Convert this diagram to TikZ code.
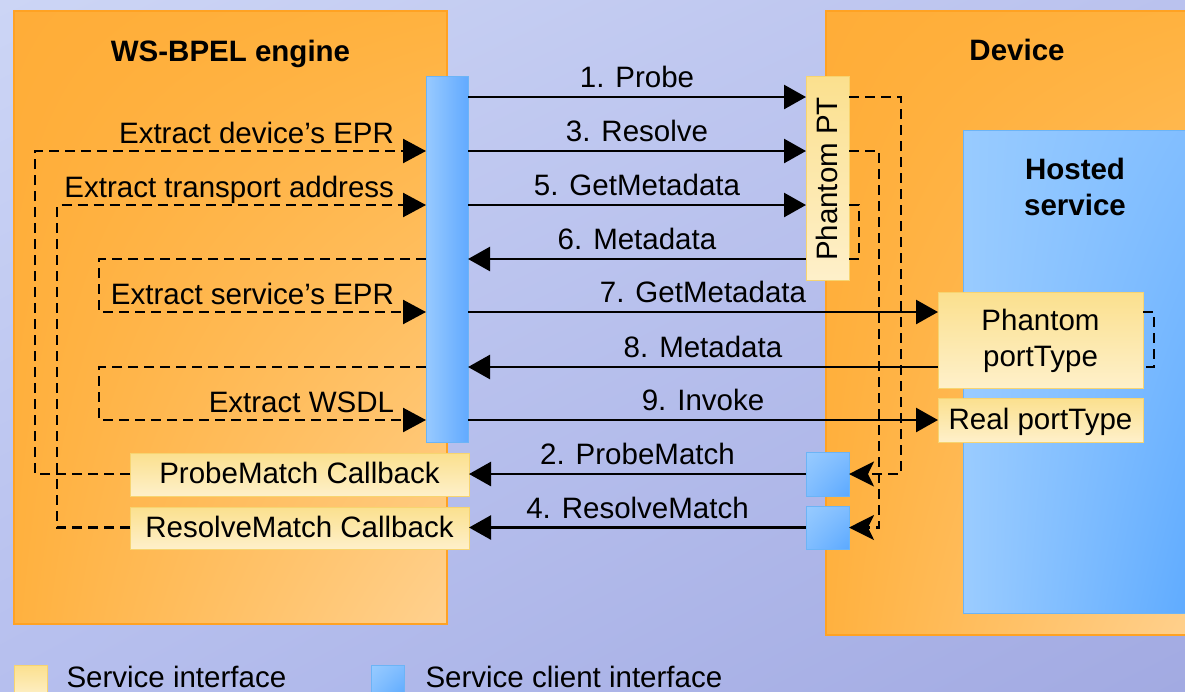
\documentclass[tikz,border=0pt]{standalone}
\usepackage{fontspec}
\setmainfont{Liberation Sans}
\usetikzlibrary{arrows.meta,shadings}

\definecolor{bgUL}{HTML}{CCD5F5}
\definecolor{bgUR}{HTML}{BAC2EE}
\definecolor{bgLL}{HTML}{B6BFEE}
\definecolor{bgLR}{HTML}{A2AAE2}
\definecolor{orUL}{HTML}{FFAD38}
\definecolor{orUR}{HTML}{FFB23F}
\definecolor{orLL}{HTML}{FFB13F}
\definecolor{orLR}{HTML}{FFD18F}
\definecolor{orLine}{HTML}{FFA223}
\definecolor{hsUL}{HTML}{98CBFF}
\definecolor{hsUR}{HTML}{80BDFF}
\definecolor{hsLL}{HTML}{9BCCFF}
\definecolor{hsLR}{HTML}{5BA9FF}
\definecolor{blLine}{HTML}{6CB4F6}
\definecolor{barL}{HTML}{98CAFF}
\definecolor{barR}{HTML}{62AAFF}
\definecolor{ylTop}{HTML}{FBE08E}
\definecolor{ylBot}{HTML}{FEF0CA}
\definecolor{ylLine}{HTML}{F7D470}

\begin{document}
\begin{tikzpicture}[x=1pt,y=-1pt,
  every node/.style={inner sep=0pt, outer sep=0pt},
  txt/.style={font=\fontsize{29.5}{33}\selectfont, text=black},
  ttl/.style={font=\bfseries\fontsize{29.5}{36}\selectfont, text=black},
  panel/.style={draw=orLine, line width=1.2pt, anchor=north west,
    upper left=orUL, upper right=orUR, lower left=orLL, lower right=orLR},
  hostbox/.style={draw=blLine, line width=1pt, anchor=north west,
    upper left=hsUL, upper right=hsUR, lower left=hsLL, lower right=hsLR},
  ifbox/.style={draw=ylLine, line width=1pt, anchor=north west,
    top color=ylTop, bottom color=ylBot},
  barbox/.style={draw=blLine, line width=1pt, anchor=north west,
    left color=barL, right color=barR},
  clibox/.style={draw=blLine, line width=1pt, anchor=north west,
    upper left=hsUL, upper right=hsUR, lower left=hsUR, lower right=hsLR},
  msg/.style={line width=2.6pt, -{Triangle[length=22pt,width=24pt]}},
  dashline/.style={line width=2.4pt, dash pattern=on 10pt off 6pt},
  dasharr/.style={dashline, -{Triangle[length=23pt,width=24pt]}},
  dashret/.style={dashline, -{Stealth[length=25pt,width=25pt,inset=6pt]}},
  lbl/.style={txt, midway, anchor=base, yshift=9.5pt},
  sidelbl/.style={txt, pos=1, anchor=base east, xshift=-32pt, yshift=8pt}
]
\clip (0,0) rectangle (1185,691);
\shade[upper left=bgUL, upper right=bgUR, lower left=bgLL, lower right=bgLR]
  (0,0) rectangle (1185,691);

% message rows
\coordinate (r1) at (0,97);
\coordinate (r3) at (0,151);
\coordinate (r5) at (0,205);
\coordinate (r6) at (0,259);
\coordinate (r7) at (0,312);
\coordinate (r8) at (0,367);
\coordinate (r9) at (0,420);
% columns of the dashed routes
\coordinate (xa) at (35,0);
\coordinate (xb) at (57,0);
\coordinate (xc) at (99,0);
\coordinate (xd) at (859,0);
\coordinate (xe) at (879,0);
\coordinate (xf) at (901,0);
\coordinate (xg) at (1154,0);

% containers
\node[panel, minimum width=433pt, minimum height=613pt] (engine) at (14,11) {};
\node[panel, minimum width=372pt, minimum height=624pt] (device) at (826,11) {};
\node[hostbox, minimum width=240pt, minimum height=483pt] (hosted) at (963,130) {};

\node[ttl, anchor=base] (engtitle) at (230.5,61) {WS-BPEL engine};
\node[ttl, anchor=base] (devtitle) at (1017,60) {Device};
\node[ttl, align=center] (hosttitle) at (1075,187) {Hosted\\service};

% service interfaces
\node[ifbox, minimum width=205pt, minimum height=96pt] (phpt) at (938,292) {};
\node[ifbox, minimum width=205pt, minimum height=44pt] (rpt) at (938,398) {};
\node[ifbox, minimum width=339pt, minimum height=43pt] (pmcb) at (130,453) {};
\node[ifbox, minimum width=339pt, minimum height=42pt] (rmcb) at (130,507) {};
\node[ifbox, minimum width=43pt, minimum height=204pt] (ppt) at (806,76) {};

\node[txt, align=center, font=\fontsize{29.5}{36}\selectfont] (phptlbl) at (1040.5,341) {Phantom\\portType};
\node[txt, anchor=base] (rptlbl) at (1040.5,429) {Real portType};
\node[txt, anchor=base] (pmcblbl) at (299.5,483) {ProbeMatch Callback};
\node[txt, anchor=base] (rmcblbl) at (299.5,537) {ResolveMatch Callback};
\node[txt, anchor=base, rotate=90] (pptlbl) at (837,179) {Phantom PT};

% service client interfaces
\node[barbox, minimum width=42pt, minimum height=366pt] (bar) at (426,76) {};
\node[clibox, minimum width=43pt, minimum height=44pt] (sq1) at (806,452) {};
\node[clibox, minimum width=43pt, minimum height=43pt] (sq2) at (806,506) {};

% messages between engine and device
\draw[msg] (bar.east |- r1) -- node[lbl] {1. Probe} (ppt.west |- r1);
\draw[msg] (bar.east |- r3) -- node[lbl] {3. Resolve} (ppt.west |- r3);
\draw[msg] (bar.east |- r5) -- node[lbl] {5. GetMetadata} (ppt.west |- r5);
\draw[msg] (ppt.west |- r6) -- node[lbl] {6. Metadata} (bar.east |- r6);
\draw[msg] (bar.east |- r7) -- node[lbl] {7. GetMetadata} (phpt.west |- r7);
\draw[msg] (phpt.west |- r8) -- node[lbl] {8. Metadata} (bar.east |- r8);
\draw[msg] (bar.east |- r9) -- node[lbl] {9. Invoke} (rpt.west |- r9);
\draw[msg] (sq1.west) -- node[lbl] {2. ProbeMatch} (sq1.west -| pmcb.east);
\draw[msg] (sq2.west) -- node[lbl] {4. ResolveMatch} (sq2.west -| rmcb.east);

% internal flows inside the engine
\draw[dasharr] (pmcb.west |- sq1.west) -| (xa |- r3) -- node[sidelbl] {Extract device’s EPR} (bar.west |- r3);
\draw[dasharr] (rmcb.west |- sq2.west) -| (xb |- r5) -- node[sidelbl] {Extract transport address} (bar.west |- r5);
\draw[dasharr] (bar.west |- r6) -| (xc |- r7) -- node[sidelbl] {Extract service’s EPR} (bar.west |- r7);
\draw[dasharr] (bar.west |- r8) -| (xc |- r9) -- node[sidelbl] {Extract WSDL} (bar.west |- r9);

% internal flows inside the device
\draw[dashret] (ppt.east |- r1) -| (xf |- sq1.east) -- (sq1.east);
\draw[dashret] (ppt.east |- r3) -| (xe |- sq2.east) -- (sq2.east);
\draw[dashline] (ppt.east |- r5) -| (xd |- r6) -- (ppt.east |- r6);
\draw[dashline] (phpt.east |- r7) -| (xg |- r8) -- (phpt.east |- r8);

% legend
\node[ifbox, minimum width=33pt, minimum height=33pt] (legsi) at (14,665) {};
\node[clibox, minimum width=33pt, minimum height=33pt] (legci) at (371,665) {};
\node[txt, anchor=base west] (legsitxt) at (66.5,687) {Service interface};
\node[txt, anchor=base west] (legcitxt) at (425.5,687) {Service client interface};
\end{tikzpicture}
\end{document}
